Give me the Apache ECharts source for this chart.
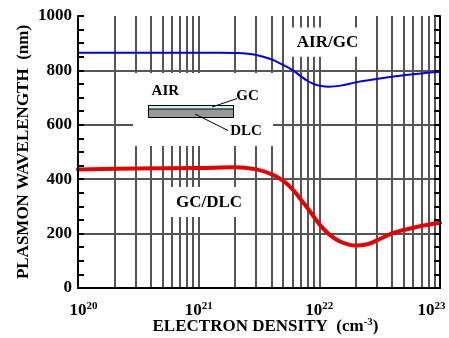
<!DOCTYPE html>
<html><head><meta charset="utf-8">
<script src="https://cdn.jsdelivr.net/npm/echarts@6/dist/echarts.min.js"></script>
<style>html,body{margin:0;padding:0;background:#fff}#c{width:449px;height:338px}</style>
</head><body><div id="c"></div>
<script>
const densityAirGC = [1e20, 1e21, 1.5e21, 2e21, 3e21, 4e21, 5e21, 6e21, 7e21, 8e21, 9e21, 1e22, 1.2e22, 1.5e22, 2e22, 3e22, 4e22, 5e22, 7e22, 1e23];
const wavelengthAirGC = [865, 865, 865, 864, 857, 841, 820, 801, 779, 761, 750, 744, 740, 744, 756, 768, 777, 782, 789, 795];
const densityGCDLC = [1e20, 3e20, 1e21, 2e21, 3e21, 4e21, 5e21, 6e21, 7e21, 8e21, 9e21, 1e22, 1.2e22, 1.5e22, 2e22, 2.5e22, 3e22, 4e22, 5e22, 7e22, 1e23];
const wavelengthGCDLC = [436, 439, 441, 444, 436, 419, 395, 363, 326, 293, 262, 235, 198, 170, 156, 161, 175, 201, 213, 228, 240];
const xDecadeExponents = [20, 21, 22, 23];
const yTickValues = [0, 200, 400, 600, 800, 1000];
const curveLabels = ['AIR/GC', 'GC/DLC'];
const insetLabels = ['AIR', 'GC', 'DLC'];

const FONT = 'Liberation Serif';
const xMin = Math.pow(10, xDecadeExponents[0]);
const xMax = Math.pow(10, xDecadeExponents[xDecadeExponents.length - 1]);
const yMin = yTickValues[0], yMax = yTickValues[yTickValues.length - 1];
const yStep = yTickValues[1] - yTickValues[0];

const vGrid = [];
for (let i = 0; i < xDecadeExponents.length - 1; i++) {
  for (let m = 1; m <= 9; m++) {
    const v = m * Math.pow(10, xDecadeExponents[i]);
    if (v > xMin) vGrid.push({ xAxis: v });
  }
}
const hGrid = yTickValues.filter(v => v > yMin && v < yMax).map(v => ({ yAxis: v }));

const zip = (a, b) => a.map((x, i) => [x, b[i]]);
const txt = (size, color) => ({ fontFamily: FONT, fontWeight: 'bold', fontSize: size, color: color || '#000' });
const frameLine = () => ({ show: true, lineStyle: { color: '#000', width: 2 } });
const yTicks = () => ({ show: true, inside: true, length: 6, lineStyle: { color: '#000', width: 2 } });
const yMinor = () => ({ show: true, splitNumber: 4, length: 6, lineStyle: { color: '#000', width: 2 } });

const chart = echarts.init(document.getElementById('c'), null, { renderer: 'canvas' });
chart.setOption({
  animation: false,
  grid: { left: 78, right: 9, top: 16, bottom: 50, containLabel: false, outerBoundsMode: 'none' },
  xAxis: [{
    type: 'log', logBase: 10, min: xMin, max: xMax, splitNumber: 3, z: 10,
    axisLine: frameLine(),
    axisTick: { show: false }, splitLine: { show: false },
    axisLabel: {
      margin: 13,
      formatter: v => {
        const e = Math.round(Math.log10(v));
        const b = e === xDecadeExponents[0] ? 'bl' : 'b';
        const s = e === xDecadeExponents[xDecadeExponents.length - 1] ? 'sr' : 's';
        return '{' + b + '|10}{' + s + '|' + e + '}';
      },
      rich: {
        b: Object.assign(txt(17), { lineHeight: 20 }),
        bl: Object.assign(txt(17), { lineHeight: 20, padding: [0, 0, 0, 11] }),
        s: Object.assign(txt(11), { lineHeight: 12, verticalAlign: 'top' }),
        sr: Object.assign(txt(11), { lineHeight: 12, verticalAlign: 'top', padding: [0, 17, 0, 0] })
      }
    },
    name: '{n|ELECTRON DENSITY  (cm}{s|-3}{n|)}',
    nameLocation: 'middle', nameGap: 29, nameMoveOverlap: false,
    nameTextStyle: {
      padding: [0, 0, 0, 13],
      rich: {
        n: Object.assign(txt(17), { lineHeight: 20 }),
        s: Object.assign(txt(11), { lineHeight: 12, verticalAlign: 'top' })
      }
    }
  }, {
    type: 'log', logBase: 10, min: xMin, max: xMax, position: 'top', z: 10,
    axisLine: frameLine(),
    axisTick: { show: false }, axisLabel: { show: false }, splitLine: { show: false }
  }],
  yAxis: [{
    type: 'value', min: yMin, max: yMax, interval: yStep, z: 10,
    axisLine: frameLine(), axisTick: yTicks(), minorTick: yMinor(),
    splitLine: { show: false },
    axisLabel: Object.assign(txt(17), { margin: 6, formatter: v => String(v) }),
    name: 'PLASMON WAVELENGTH  (nm)', nameLocation: 'middle', nameRotate: 90, nameGap: 46, nameMoveOverlap: false,
    nameTextStyle: txt(17)
  }, {
    type: 'value', min: yMin, max: yMax, interval: yStep, position: 'right', z: 10,
    axisLine: frameLine(), axisTick: yTicks(), minorTick: yMinor(),
    splitLine: { show: false }, axisLabel: { show: false }
  }],
  series: [{
    name: curveLabels[1], type: 'line', z: 3,
    data: zip(densityGCDLC, wavelengthGCDLC),
    smooth: 0.4, showSymbol: false,
    lineStyle: { color: '#e60000', width: 4, cap: 'round', join: 'round' },
    markLine: {
      silent: true, z: 1, symbol: ['none', 'none'], label: { show: false },
      lineStyle: { color: '#555', width: 2, type: 'solid' },
      emphasis: { disabled: true },
      data: vGrid.concat(hGrid)
    },
    markArea: {
      silent: true, z: 2, label: { show: false },
      itemStyle: { color: '#fff', opacity: 1 },
      data: [
        [{ coord: [2.86e20, 522] }, { coord: [4.13e21, 790] }],
        [{ coord: [5.25e20, 261] }, { coord: [2.2e21, 371] }],
        [{ coord: [5.29e21, 850] }, { coord: [2.63e22, 958] }]
      ]
    }
  }, {
    name: curveLabels[0], type: 'line', z: 3,
    data: zip(densityAirGC, wavelengthAirGC),
    smooth: 0.4, showSymbol: false,
    lineStyle: { color: '#0000e0', width: 2, cap: 'round', join: 'round' }
  }],
  graphic: [
    { type: 'text', z: 20, x: 327.5, y: 42.3, style: Object.assign(txt(17, '#6e1440'), { text: curveLabels[0], align: 'center', verticalAlign: 'middle' }) },
    { type: 'text', z: 20, x: 209, y: 203, style: Object.assign(txt(17, '#6e1440'), { text: curveLabels[1], align: 'center', verticalAlign: 'middle' }) },
    { type: 'rect', z: 20, shape: { x: 148.5, y: 105.5, width: 85, height: 12 }, style: { fill: '#999', stroke: '#000', lineWidth: 1 } },
    { type: 'rect', z: 21, shape: { x: 148.5, y: 105.5, width: 85, height: 3.5 }, style: { fill: '#c4f4f4', stroke: '#000', lineWidth: 1 } },
    { type: 'line', z: 21, shape: { x1: 212, y1: 107, x2: 237, y2: 98.5 }, style: { stroke: '#000', lineWidth: 1 } },
    { type: 'line', z: 21, shape: { x1: 195, y1: 114, x2: 228, y2: 130.5 }, style: { stroke: '#000', lineWidth: 1 } },
    { type: 'text', z: 21, x: 165.3, y: 91.5, style: Object.assign(txt(15), { text: insetLabels[0], align: 'center', verticalAlign: 'middle' }) },
    { type: 'text', z: 21, x: 247.5, y: 96, style: Object.assign(txt(15), { text: insetLabels[1], align: 'center', verticalAlign: 'middle' }) },
    { type: 'text', z: 21, x: 246, y: 131, style: Object.assign(txt(15), { text: insetLabels[2], align: 'center', verticalAlign: 'middle' }) }
  ]
});
</script></body></html>
